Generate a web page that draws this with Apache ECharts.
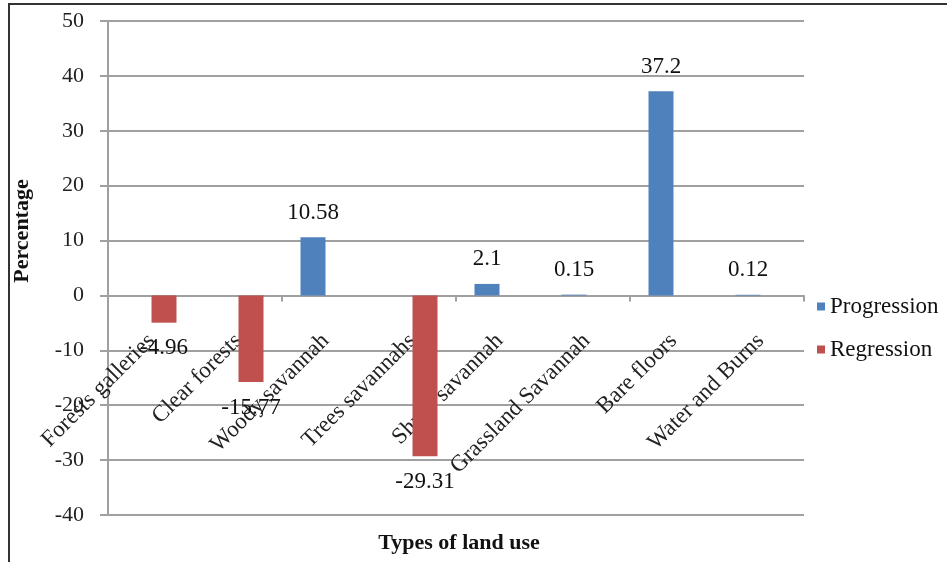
<!DOCTYPE html>
<html>
<head>
<meta charset="utf-8">
<script src="https://cdn.jsdelivr.net/npm/echarts@6/dist/echarts.min.js"></script>
<style>html,body{margin:0;padding:0;background:#fff}#c{width:947px;height:562px}</style>
</head>
<body>
<div id="c"></div>
<script>
const categories = ["Forests galleries","Clear forests","Woody savannah","Trees savannahs","Shrub savannah","Grassland Savannah","Bare floors","Water and Burns"];
const progression = [null, null, 10.58, null, 2.1, 0.15, 37.2, 0.12];
const regression = [-4.96, -15.77, null, -29.31, null, null, null, null];
const seriesNames = ["Progression","Regression"];
const yTicks = {min: -40, max: 50, interval: 10};

const FONT = "'Liberation Serif','Times New Roman',serif";
const GRID = '#a0a0a0';
const GRID_TOP = 21, GRID_BOTTOM = 47, H = 562;
// distance from plot bottom to the zero line, derived from the y scale
const plotH = H - GRID_TOP - GRID_BOTTOM;
const zeroOffset = plotH * (0 - yTicks.min) / (yTicks.max - yTicks.min);

const chart = echarts.init(document.getElementById('c'), null, {renderer: 'canvas'});
const labelStyle = {show: true, fontFamily: FONT, fontSize: 23, color: '#111',
  formatter: p => String(p.value)};
chart.setOption({
  animation: false,
  grid: {left: 108, right: 143, top: GRID_TOP, bottom: GRID_BOTTOM, containLabel: false, outerBoundsMode: 'none'},
  legend: {
    orient: 'vertical', left: 812, top: 290, itemWidth: 8, itemHeight: 8, itemGap: 20,
    icon: 'rect', textStyle: {fontFamily: FONT, fontSize: 23, color: '#111'},
    data: seriesNames
  },
  xAxis: [{
    type: 'category', data: categories,
    axisLine: {onZero: true, lineStyle: {color: GRID, width: 2}},
    axisTick: {show: true, length: 6, lineStyle: {color: GRID, width: 2}},
    axisLabel: {show: false},
    splitLine: {show: false}
  }, {
    type: 'category', data: categories, position: 'bottom', offset: -zeroOffset,
    axisLine: {show: false, onZero: false}, axisTick: {show: false},
    axisLabel: {rotate: 45, interval: 0, margin: 42, fontFamily: FONT, fontSize: 23, color: '#222'},
    splitLine: {show: false}
  }],
  yAxis: {
    type: 'value', min: yTicks.min, max: yTicks.max, interval: yTicks.interval,
    axisLine: {show: true, lineStyle: {color: GRID, width: 2}},
    axisTick: {show: true, length: 8, lineStyle: {color: GRID, width: 2}},
    axisLabel: {margin: 24, fontFamily: FONT, fontSize: 22, color: '#222'},
    splitLine: {show: true, lineStyle: {color: GRID, width: 2}}
  },
  series: [
    {name: seriesNames[0], type: 'bar', data: progression, barWidth: 25, barGap: '0%', xAxisIndex: 0,
     itemStyle: {color: '#4F81BD'},
     label: Object.assign({}, labelStyle, {position: 'top', distance: 13})},
    {name: seriesNames[1], type: 'bar', data: regression, barWidth: 25, barGap: '0%', xAxisIndex: 0,
     itemStyle: {color: '#C0504D'},
     label: Object.assign({}, labelStyle, {position: 'bottom', distance: 14})}
  ],
  graphic: [
    {type: 'rect', shape: {x: 9, y: 4, width: 980, height: 620}, silent: true,
     style: {fill: 'none', stroke: '#333', lineWidth: 2}},
    {type: 'text', x: 22, y: 231, rotation: Math.PI / 2,
     style: {text: 'Percentage', font: "bold 22px 'Liberation Serif'", fill: '#111', align: 'center', verticalAlign: 'middle'}},
    {type: 'text', x: 459, y: 543,
     style: {text: 'Types of land use', font: "bold 22px 'Liberation Serif'", fill: '#111', align: 'center', verticalAlign: 'middle'}}
  ]
});
</script>
</body>
</html>
